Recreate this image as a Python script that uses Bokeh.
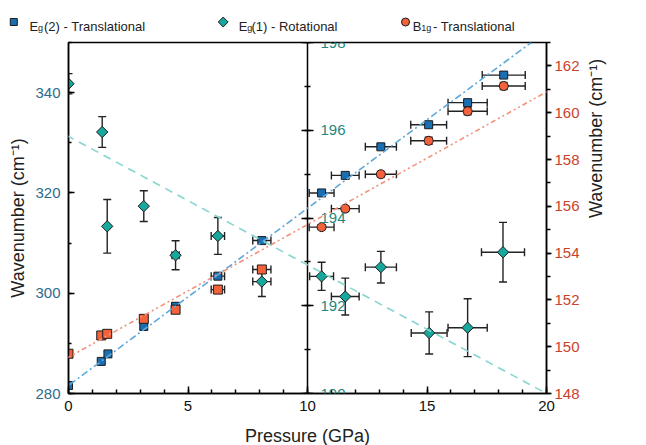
import math
import numpy as np
from bokeh.plotting import figure
from bokeh.layouts import column
from bokeh.core.properties import value
from bokeh.models import (Range1d, LinearAxis, SingleIntervalTicker, ColumnDataSource,
                          Whisker, TeeHead, Slope)
from bokeh.embed import file_html
from bokeh.resources import INLINE

# ---------------- data ----------------
# Eg(2) - Translational  (left axis, cm-1)
p_eg2 = [0.0, 1.37, 1.65, 3.15, 4.48, 6.25, 8.09, 10.59, 11.58, 13.07, 15.07, 16.70, 18.21]
w_eg2 = [281.6, 286.4, 287.9, 293.4, 297.4, 303.4, 310.5, 320.0, 323.5, 329.2, 333.6, 338.0, 343.5]
xerr_eg2 = [0, 0, 0, 0, 0.15, 0.28, 0.38, 0.52, 0.58, 0.65, 0.75, 0.82, 0.90]
yerr_eg2 = [0.4, 0.4, 0.4, 0.8, 0.6, 0.4, 0.4, 0.3, 0.3, 0.4, 0.4, 0.4, 0.6]

# Eg(1) - Rotational  (middle axis, cm-1)
p_eg1 = [0.0, 1.41, 1.62, 3.15, 4.48, 6.25, 8.09, 10.59, 11.58, 13.07, 15.09, 16.70, 18.18]
w_eg1 = [197.06, 195.96, 193.81, 194.27, 193.15, 193.59, 192.55, 192.67, 192.21, 192.88, 191.38, 191.50, 193.22]
xerr_eg1 = [0, 0, 0, 0, 0.15, 0.28, 0.38, 0.50, 0.58, 0.65, 0.75, 0.82, 0.90]
yerr_eg1 = [0.23, 0.35, 0.61, 0.35, 0.33, 0.42, 0.34, 0.32, 0.42, 0.36, 0.48, 0.66, 0.68]

# B1g - Translational  (right axis, cm-1)
p_b1g = [0.0, 1.37, 1.62, 3.15, 4.48, 6.25, 8.09, 10.59, 11.58, 13.07, 15.07, 16.70, 18.21]
w_b1g = [149.70, 150.48, 150.55, 151.19, 151.58, 152.44, 153.30, 155.11, 155.90, 157.37, 158.80, 160.06, 161.14]
xerr_b1g = [0, 0, 0, 0, 0.15, 0.28, 0.38, 0.52, 0.58, 0.65, 0.75, 0.82, 0.90]
yerr_b1g = [0.10, 0.10, 0.10, 0.15, 0.12, 0.10, 0.10, 0.10, 0.12, 0.12, 0.15, 0.15, 0.15]

# linear fits: (intercept, slope)
fit_eg2 = (281.6, 3.533)
fit_eg1 = (195.86, -0.293)
fit_b1g = (149.55, 0.567)

# legend texts: (main, subscript, rest)
legend_texts = [("E", "g", " (2) - Translational"),
                ("E", "g", "(1) - Rotational"),
                ("B", "1g", " - Translational")]

FONT = "Liberation Sans"
BLUE, TEAL, RED = "#1a6fb3", "#17a89d", "#f4623c"
BLUE_L, TEAL_L, RED_L = "#5ea9dc", "#86d6d0", "#f2927c"
BLUE_T, TEAL_T, RED_T = "#2d6c8c", "#1f877d", "#c9432b"
EDGE = "#1c1c1c"
EB = "#222222"

# ---------------- main plot ----------------
p = figure(frame_width=478, frame_height=351, x_range=Range1d(0, 20), y_range=Range1d(280, 350),
           output_backend="svg", toolbar_location=None, frame_align=False,
           min_border_left=68, min_border_top=8, min_border_right=62, min_border_bottom=50)
p.extra_y_ranges = {"mid": Range1d(190, 198), "right": Range1d(148, 163)}
p.xgrid.visible = False
p.ygrid.visible = False
p.outline_line_color = "black"
p.outline_line_width = 1.5
p.background_fill_color = "white"
p.border_fill_color = "white"

def style_axis(ax, color, size="15px"):
    ax.axis_line_color = "black"
    ax.axis_line_width = 1.5
    ax.major_tick_line_color = "black"
    ax.minor_tick_line_color = "black"
    ax.major_tick_line_width = 1.5
    ax.minor_tick_line_width = 1.5
    ax.major_label_text_font = FONT
    ax.major_label_text_font_size = size
    ax.major_label_text_color = color
    ax.axis_label_text_font = FONT
    ax.axis_label_text_font_size = "18px"
    ax.axis_label_text_font_style = "normal"
    ax.axis_label_text_color = "#222222"

# bottom axis
xa = p.xaxis[0]
xa.ticker = SingleIntervalTicker(interval=5, num_minor_ticks=5)
style_axis(xa, "#111111")
xa.axis_label = "Pressure (GPa)"
xa.major_tick_in, xa.major_tick_out = 7, 0
xa.minor_tick_in, xa.minor_tick_out = 4, 0
xa.major_label_standoff = 7
xa.axis_label_standoff = 12

# left axis
ya = p.yaxis[0]
ya.ticker = SingleIntervalTicker(interval=20, num_minor_ticks=2)
style_axis(ya, BLUE_T)
ya.axis_label = "Wavenumber (cm⁻¹)"
ya.major_tick_in, ya.major_tick_out = 6, 0
ya.minor_tick_in, ya.minor_tick_out = 3, 0
ya.major_label_standoff = 8
ya.axis_label_standoff = 4

# right axis
ra = LinearAxis(y_range_name="right", ticker=SingleIntervalTicker(interval=2, num_minor_ticks=2),
                axis_label="Wavenumber (cm⁻¹)")
style_axis(ra, RED_T)
ra.major_tick_in, ra.major_tick_out = 0, 5
ra.minor_tick_in, ra.minor_tick_out = 0, 4
ra.major_label_standoff = 3
ra.axis_label_standoff = 13
ra.axis_label_orientation = math.pi / 2
p.add_layout(ra, "right")

# middle axis at P = 10
ma = LinearAxis(y_range_name="mid", fixed_location=10,
                ticker=SingleIntervalTicker(interval=2, num_minor_ticks=2))
style_axis(ma, TEAL_T)
ma.major_tick_in, ma.major_tick_out = 6, 6
ma.minor_tick_in, ma.minor_tick_out = 3, 3
ma.major_label_standoff = 7
p.add_layout(ma, "right")

# fit lines
p.add_layout(Slope(gradient=fit_eg2[1], y_intercept=fit_eg2[0], line_color=BLUE_L,
                   line_width=1.6, line_dash="7 3 2 3"))
p.add_layout(Slope(gradient=fit_eg1[1], y_intercept=fit_eg1[0], y_range_name="mid",
                   line_color=TEAL_L, line_width=1.6, line_dash="8 6"))
p.add_layout(Slope(gradient=fit_b1g[1], y_intercept=fit_b1g[0], y_range_name="right",
                   line_color=RED_L, line_width=1.6, line_dash="5 3 2 3 2 3"))

def errbars(P, W, xe, ye, rng):
    P, W, xe, ye = map(np.asarray, (P, W, xe, ye))
    kw = dict(line_color=EB, line_width=1.4, level="underlay", y_range_name=rng)
    def head():
        return TeeHead(size=8, line_color=EB, line_width=1.4)
    sy = ColumnDataSource(dict(base=P, lo=W - ye, hi=W + ye))
    p.add_layout(Whisker(source=sy, base="base", lower="lo", upper="hi", dimension="height",
                         lower_head=head(), upper_head=head(), **kw))
    m = xe > 0
    sx = ColumnDataSource(dict(base=W[m], lo=P[m] - xe[m], hi=P[m] + xe[m]))
    p.add_layout(Whisker(source=sx, base="base", lower="lo", upper="hi", dimension="width",
                         lower_head=head(), upper_head=head(), **kw))

errbars(p_eg2, w_eg2, xerr_eg2, yerr_eg2, "default")
errbars(p_eg1, w_eg1, xerr_eg1, yerr_eg1, "mid")
errbars(p_b1g, w_b1g, xerr_b1g, yerr_b1g, "right")

p.scatter(p_eg2, w_eg2, marker="square", size=8, fill_color=BLUE, line_color=EDGE, line_width=1)
p.scatter(p_eg1, w_eg1, marker="square", angle=math.pi / 4, size=8, fill_color=TEAL,
          line_color=EDGE, line_width=1, y_range_name="mid")
b1g_marker = ["square" if x < 10 else "circle" for x in p_b1g]
src_b1g = ColumnDataSource(dict(x=p_b1g, y=w_b1g, m=b1g_marker))
p.scatter("x", "y", marker="m", source=src_b1g, size=9, fill_color=RED, line_color=EDGE,
          line_width=1, y_range_name="right")

# ---------------- legend strip (own small figure, pixel coordinates) ----------------
LW, LH = 620, 34
leg = figure(width=LW, height=LH, x_range=Range1d(0, LW), y_range=Range1d(0, LH),
             output_backend="svg", toolbar_location=None, min_border=0, frame_align=False,
             x_axis_type=None, y_axis_type=None, outline_line_color=None)
leg.xgrid.visible = False
leg.ygrid.visible = False
leg.background_fill_color = "white"
leg.border_fill_color = "white"

mk_x = [13.3, 222.7, 405.0]
mk_y = 12.5
leg.scatter([mk_x[0]], [mk_y], marker="square", size=7, fill_color=BLUE, line_color=EDGE, line_width=1)
leg.scatter([mk_x[1]], [mk_y], marker="square", angle=math.pi / 4, size=7, fill_color=TEAL,
            line_color=EDGE, line_width=1)
leg.scatter([mk_x[2]], [mk_y], marker="circle", size=8, fill_color=RED, line_color=EDGE, line_width=1)

main_x = [29.0, 238.3, 412.3]
sub_x = [37.5, 246.8, 420.8]
rest_x = [43.5, 251.0, 432.5]
BASE, SUB = 7.7, 6.2
leg.text(x=main_x, y=[BASE] * 3, text=[t[0] for t in legend_texts], text_font=value(FONT),
         text_font_size="13px", text_color="#222222", text_baseline="alphabetic")
leg.text(x=sub_x, y=[SUB] * 3, text=[t[1] for t in legend_texts], text_font=value(FONT),
         text_font_size="9px", text_color="#222222", text_baseline="alphabetic")
leg.text(x=rest_x, y=[BASE] * 3, text=[t[2] for t in legend_texts], text_font=value(FONT),
         text_font_size="13px", text_color="#222222", text_baseline="alphabetic")

layout = column(leg, p, spacing=0)
open("out.html", "w").write(file_html(layout, INLINE))
